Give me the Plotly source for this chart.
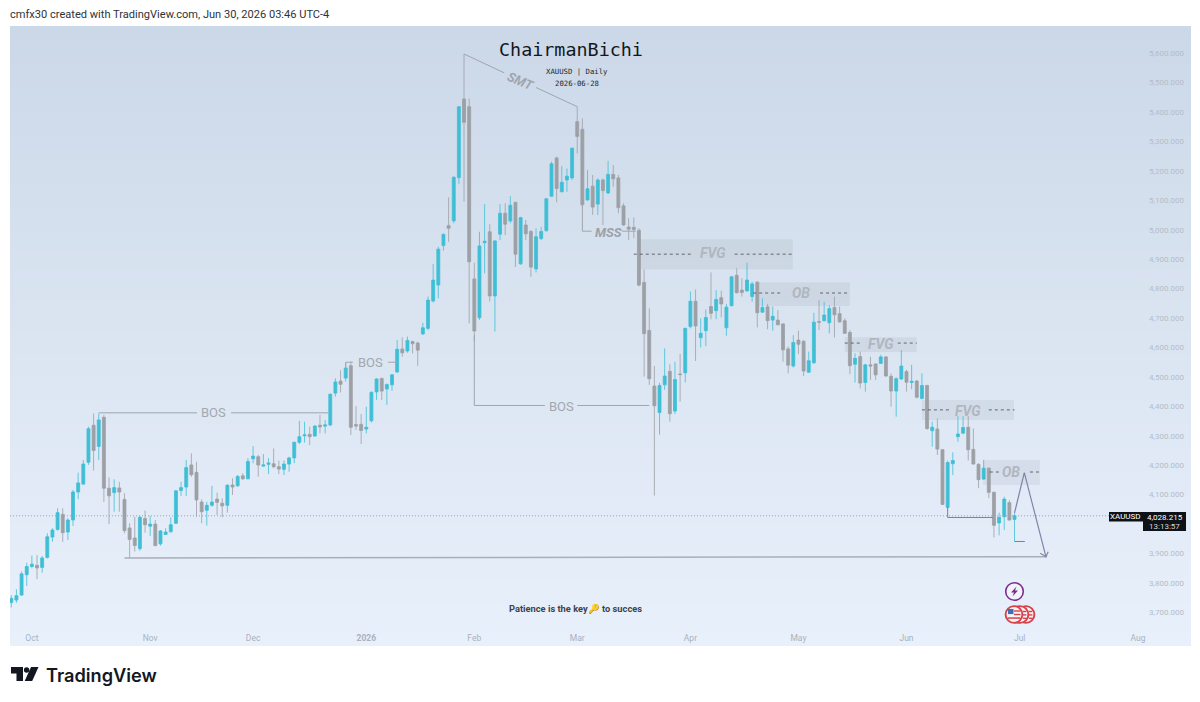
import plotly.graph_objects as go

# Daily XAUUSD candles, oldest first
opens = [3734,3742,3759,3828,3856,3860,3853,3887,3956,3982,4033,3973,4014,4109,4136,4210,4336,4264,4363,4122,
         4107,4123,4084,3987,3953,3917,4019,3993,4000,3933,3965,3974,4003,4114,4126,4201,4176,4075,4047,4064,
         4085,4071,4064,4133,4130,4164,4154,4222,4229,4197,4203,4205,4195,4186,4204,4225,4278,4300,4305,4299,
         4336,4333,4337,4445,4486,4496,4538,4338,4339,4323,4351,4449,4495,4459,4473,4517,4595,4588,4620,4615,
         4646,4665,4758,4812,4946,5014,5030,5177,5444,5418,4833,4701,4956,4993,4775,4985,5056,5030,5093,4884,
         5016,4994,4867,4970,4997,5114,5244,5129,5169,5176,5367,5341,5101,5148,5087,5169,5125,5188,5176,5081,
         5009,5008,4998,4821,4658,4469,4379,4473,4519,4384,4510,4514,4671,4757,4633,4657,4739,4725,4769,4667,
         4742,4845,4795,4792,4773,4822,4720,4738,4693,4693,4680,4595,4537,4625,4621,4516,4548,4688,4691,4684,
         4736,4715,4691,4651,4543,4569,4481,4541,4544,4546,4568,4502,4452,4493,4518,4481,4486,4427,4471,4317,
         4323,4253,4057,4205,4297,4309,4329,4254,4203,4153,4190,4108,4004,4025,4073,4016]
highs = [3759,3779,3839,3869,3893,3895,3892,3969,3986,4054,4054,4020,4116,4175,4218,4331,4376,4376,4371,4159,
         4152,4144,4105,4003,4025,4028,4046,4028,4014,3980,3986,4023,4114,4144,4218,4240,4212,4084,4076,4130,
         4107,4088,4136,4156,4167,4173,4224,4265,4235,4238,4224,4257,4216,4216,4229,4280,4351,4348,4331,4337,
         4371,4354,4444,4495,4523,4548,4552,4401,4374,4399,4450,4495,4497,4478,4510,4625,4634,4637,4623,4620,
         4684,4773,4884,4942,4988,5110,5182,5420,5597,5446,4888,4993,5087,5019,4965,5087,5090,5114,5095,5044,
         5033,4999,5005,5010,5107,5231,5248,5216,5208,5279,5418,5378,5203,5186,5174,5174,5234,5220,5186,5090,
         5039,5042,5005,4865,4733,4537,4480,4597,4543,4552,4578,4667,4790,4797,4699,4729,4855,4795,4793,4748,
         4843,4869,4835,4888,4823,4824,4767,4748,4739,4727,4682,4603,4642,4657,4625,4586,4718,4761,4755,4744,
         4773,4739,4699,4659,4580,4586,4544,4569,4546,4575,4571,4512,4499,4591,4524,4541,4490,4512,4473,4348,
         4359,4254,4216,4244,4367,4367,4367,4325,4207,4218,4193,4110,4039,4093,4082,4037]
lows = [3717,3733,3756,3790,3850,3813,3835,3883,3940,3978,3940,3946,3994,4085,4133,4201,4182,4218,4076,4000,
        4042,4042,3969,3884,3907,3909,3971,3960,3925,3927,3963,3971,4000,4096,4096,4161,4025,4003,3995,4059,
        4031,4023,4039,4099,4127,4150,4152,4207,4161,4195,4170,4190,4170,4167,4178,4207,4272,4277,4269,4297,
        4308,4308,4333,4433,4447,4484,4303,4320,4272,4308,4345,4422,4422,4405,4453,4514,4569,4582,4580,4537,
        4643,4659,4753,4767,4929,4959,5022,5155,5095,4682,4620,4693,4852,4756,4654,4965,4982,5022,4874,4881,
        4965,4840,4855,4965,4993,5112,5093,5127,5129,5169,5259,5078,5099,5050,5050,5016,5121,5146,5056,5014,
        4965,4971,4807,4501,4473,4097,4304,4456,4348,4374,4416,4482,4665,4554,4600,4605,4696,4696,4702,4640,
        4739,4784,4773,4790,4755,4668,4718,4662,4657,4676,4552,4512,4532,4578,4503,4514,4544,4659,4688,4648,
        4634,4684,4646,4510,4481,4461,4450,4490,4490,4544,4501,4399,4365,4490,4450,4458,4427,4424,4320,4263,
        4235,4065,4054,4167,4280,4306,4216,4203,4122,4150,4088,3955,3962,3980,4012,3941]
closes = [3748,3757,3831,3856,3864,3851,3885,3957,3980,4039,3971,4014,4109,4140,4204,4324,4250,4354,4122,4096,
          4124,4109,3978,3948,3927,4023,3998,4000,3927,3977,3973,3998,4113,4124,4192,4168,4082,4042,4064,4075,
          4074,4062,4132,4126,4162,4154,4213,4231,4201,4201,4208,4195,4187,4204,4225,4278,4297,4303,4297,4333,
          4330,4337,4441,4483,4475,4530,4329,4333,4318,4329,4448,4493,4452,4474,4507,4594,4582,4624,4613,4591,
          4667,4761,4829,4934,4984,5005,5178,5418,5365,4891,4656,4945,4961,4775,4962,5056,5019,5083,4917,5041,
          4986,4873,4976,4994,5105,5224,5140,5161,5182,5277,5317,5085,5139,5077,5169,5133,5188,5173,5075,5016,
          5002,5001,4812,4647,4494,4402,4471,4503,4375,4491,4508,4665,4757,4673,4648,4702,4716,4763,4748,4737,
          4840,4786,4787,4829,4816,4718,4736,4691,4706,4677,4592,4540,4617,4611,4520,4555,4686,4686,4710,4732,
          4711,4687,4648,4538,4563,4479,4541,4537,4507,4568,4503,4452,4494,4537,4482,4485,4431,4471,4325,4329,
          4255,4067,4209,4216,4306,4328,4253,4204,4151,4190,4108,3996,4023,4085,4014,4028.215]
bars = list(range(len(closes)))

# Axis ticks
price_ticks = [5600,5500,5400,5300,5200,5100,5000,4900,4800,4700,4600,4500,4400,4300,4200,4100,3900,3800,3700]
month_bars = [4,27,47,69,90,110,132,153,174,196,219]
month_names = ["Oct","Nov","Dec","<b>2026</b>","Feb","Mar","Apr","May","Jun","Jul","Aug"]

# Analysis drawings, in (bar, price)
zones = [(122.2,151.9,4866,4968),(144.9,163,4741,4822),(162,176,4585,4635),(177,194.9,4354,4422),(188.9,199.9,4133,4218)]
dashed_levels = [(121,132.5,4917),(140.6,151.9,4917),(144.2,150,4785),(157.2,163,4785),(162,165.3,4615),(172.3,176,4615),
                 (177,182.4,4388),(190,195,4388),(190.2,192.2,4177),(198,200,4177)]
gray_lines = [
    ([17,36.1],[4378,4378]), ([42.7,61.6],[4378,4378]),
    ([65,65,66.4],[4523,4550,4550]), ([73.2,75],[4550,4550]),
    ([90,90,103.7],[4642,4403,4403]), ([110,124],[4403,4403]),
    ([88,95.8],[5597,5533]), ([102,110],[5483,5418]),
    ([111,111,112.8],[5085,4995,4995]), ([118.7,121.4],[4995,4995]),
]
support_x, support_y = [22,201.3],[3885,3889.5]
dark_lines = [([182,182,190.8],[4058,4022.6,4022.6]), ([195,197],[3941,3941])]
path_x, path_y = [195,196.9,201.1],[4038,4175,3889.5]
head_x, head_y = [200,201.1,201.55],[3901,3889.5,3906]

labels = [
    ("BOS",39.4,4378,13,"#A2A8AF",0,False),("BOS",69.9,4550,13,"#A2A8AF",0,False),("BOS",107,4401,13,"#A2A8AF",0,False),
    ("SMT",99.1,5505,13,"#A0A5AD",23,True),("MSS",116,4992,13,"#9CA1A9",0,True),
    ("FVG",136.4,4920,14,"#B0B6BE",0,True),("OB",153.5,4786,14,"#B0B6BE",0,True),("FVG",169,4612,14,"#B0B6BE",0,True),
    ("FVG",186,4384,14,"#B0B6BE",0,True),("OB",194.4,4176,14,"#B0B6BE",0,True),
]

W, H = 1200, 702
L, R, T, B = 10, 1191, 26, 646
TEAL, GRAY = "#3FBFD5", "#9DA0A5"
BAR_RANGE = [-0.25, 229.3]
PRICE_RANGE = [3586, 5692]


def px(x):
    return (x - L) / (R - L)


def py(y):
    return (B - y) / (B - T)


fig = go.Figure()

# Panel backdrop
fig.add_trace(go.Heatmap(x=[-2, 232], y=[5692, 4700, 3586], z=[[0, 0], [0.47, 0.47], [1, 1]], zsmooth="best",
                         colorscale=[[0, "#CBD8E8"], [0.47, "#DAE4F1"], [1, "#E8F0FB"]], zmin=0, zmax=1,
                         showscale=False, hoverinfo="skip"))
for a, b, lo, hi in zones:
    fig.add_trace(go.Bar(x=[(a + b) / 2], width=[b - a], base=[lo], y=[hi - lo],
                         marker=dict(color="rgba(110,115,125,0.10)", line_width=0), hoverinfo="skip"))

fig.add_trace(go.Candlestick(
    x=bars, open=opens, high=highs, low=lows, close=closes, whiskerwidth=0,
    increasing=dict(line=dict(color=TEAL, width=0.8), fillcolor=TEAL),
    decreasing=dict(line=dict(color=GRAY, width=0.8), fillcolor=GRAY),
    hoverinfo="skip"))


def line(xs, ys, color, width=1, dash="solid"):
    fig.add_trace(go.Scatter(x=xs, y=ys, mode="lines", line=dict(color=color, width=width, dash=dash), hoverinfo="skip"))


line([BAR_RANGE[0], 213.4], [closes[-1], closes[-1]], "#9AA3AD", 1, "1px,2px")
for xs, ys in gray_lines:
    line(xs, ys, "#A0A5AC", 1)
line(support_x, support_y, "#A8AFB9", 1.5)
for xs, ys in dark_lines:
    line(xs, ys, "#7E8288", 1)
for a, b, p in dashed_levels:
    line([a, b], [p, p], "#55595F", 0.9, "3px,3px")
line(path_x, path_y, "#8283A8", 1.2)
line(head_x, head_y, "#8283A8", 1.2)

ann = []
for text, bx, price, size, color, angle, italic in labels:
    shown = f"<b><i>{text}</i></b>" if italic else text
    ann.append(dict(x=bx, y=price, xref="x", yref="y", text=shown, showarrow=False, textangle=angle,
                    font=dict(family="Roboto", size=size, color=color)))


def page_text(x, y, text, family, size, color, anchor="center", weight=None):
    font = dict(family=family, size=size, color=color)
    if weight:
        font["weight"] = weight
    ann.append(dict(x=px(x), y=py(y), xref="paper", yref="paper", text=text, showarrow=False, xanchor=anchor,
                    yanchor="middle", font=font))


page_text(7.5, 14, "cmfx30 created with TradingView.com, Jun 30, 2026 03:46 UTC-4", "Roboto", 11.07, "#2E3238", "left")
page_text(571, 49.5, "ChairmanBichi", "DejaVu Sans Mono", 18.4, "#14171C")
page_text(577, 71, "XAUUSD | Daily", "DejaVu Sans Mono", 7.3, "#22262C")
page_text(577, 83.5, "2026-06-28", "DejaVu Sans Mono", 7.3, "#22262C")
page_text(575, 609, "<b>Patience is the key🔑 to succes</b>", "Roboto", 9.3, "#3C4350")
page_text(44, 675, "TradingView", "Inter", 18.2, "#131722", "left", 600)
page_text(1125.7, 516.8, "XAUUSD", "Roboto", 8, "#FFFFFF")
page_text(1164.5, 517, f"{closes[-1]:,.3f}", "Roboto", 8, "#FFFFFF")
page_text(1164.5, 526, "13:13:57", "Roboto", 8, "#D5D8DC")

shapes = []


def box(x0, y0, x1, y1, fill):
    shapes.append(dict(type="rect", xref="paper", yref="paper", x0=px(x0), x1=px(x1), y0=py(y0), y1=py(y1),
                       fillcolor=fill, line=dict(color=fill, width=0), layer="above"))


def disc(cx, cy, r, fill, lc, lw):
    shapes.append(dict(type="circle", xref="paper", yref="paper", x0=px(cx - r), x1=px(cx + r), y0=py(cy - r), y1=py(cy + r),
                       fillcolor=fill, line=dict(color=lc, width=lw), layer="above"))


def poly(points, fill):
    d = "M" + " L".join(f"{px(x):.5f},{py(y):.5f}" for x, y in points) + " Z"
    shapes.append(dict(type="path", xref="paper", yref="paper", path=d, fillcolor=fill, line_width=0, layer="above"))


box(1109, 512, 1143, 521.5, "#0E1116")
box(1143, 512, 1186, 531, "#0E1116")

# Economic-event badges
disc(1014.5, 591.5, 8.8, "#F1F3FA", "#7A2C8F", 1.6)
poly([(1016.5, 586.5), (1011, 592.5), (1014, 592.5), (1012.5, 596.5), (1018, 590.5), (1015, 590.5)], "#7A2C8F")
for cx in (1026, 1020):
    disc(cx, 614.5, 8.4, "#F7F3F5", "#D6414B", 1.9)
    for dy in (-3, 0.4, 3.8):
        box(cx + 3, 614.5 + dy - 0.7, cx + 6.4, 614.5 + dy + 0.7, "#D6414B")
disc(1014, 614.5, 8.4, "#F7F3F5", "#D6414B", 1.9)
for dy in (-3.5, 0):
    box(1014, 614.5 + dy - 0.7, 1014 + 6.5, 614.5 + dy + 0.7, "#D6414B")
box(1014 - 6.3, 614.5 + 2.8, 1014 + 6.3, 614.5 + 4.3, "#D6414B")
box(1014 - 6, 614.5 - 5.5, 1014 - 0.5, 614.5 - 0.4, "#3E6FB5")

# Brand mark
poly([(11, 667), (23, 667), (23, 681), (16.5, 681), (16.5, 673.5), (11, 673.5)], "#131722")
disc(26.6, 670, 2.7, "#131722", "#131722", 0)
poly([(31, 667), (38.5, 667), (32.2, 681), (24.7, 681)], "#131722")

fig.update_layout(
    width=W, height=H, margin=dict(l=L, r=W - R, t=T, b=H - B, pad=0),
    paper_bgcolor="#FFFFFF", plot_bgcolor="#DCE6F2", showlegend=False, hovermode=False, barmode="overlay", boxgap=0.18,
    annotations=ann, shapes=shapes,
    xaxis=dict(range=BAR_RANGE, autorange=False, rangeslider=dict(visible=False), showgrid=False, zeroline=False, showline=False,
               tickmode="array", tickvals=month_bars, ticktext=month_names, ticks="", ticklabelposition="inside",
               tickfont=dict(family="Roboto", size=8.5, color="#A9B2BD")),
    yaxis=dict(range=PRICE_RANGE, autorange=False, side="right", showgrid=False, zeroline=False, showline=False,
               tickmode="array", tickvals=price_ticks, ticktext=[f"{p:,.3f}\u00a0\u00a0" for p in price_ticks], ticks="",
               ticklabelposition="inside", tickfont=dict(family="Roboto", size=8, color="#B3BDC9")),
)

fig.write_html("out.html", config=dict(displayModeBar=False, staticPlot=True))
